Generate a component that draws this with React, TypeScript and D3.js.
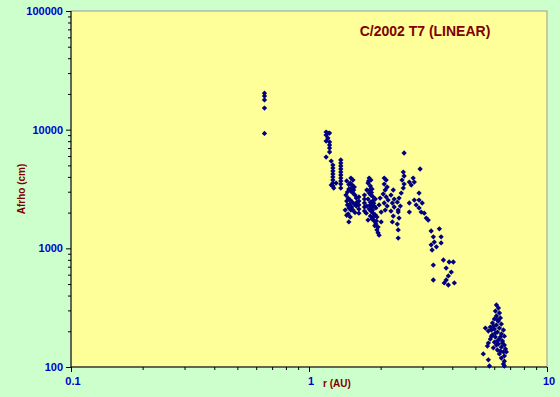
import { useEffect, useRef } from 'react';
import * as d3 from 'd3';

// [r (AU), Afrho (cm)]
const perihelion: [number, number][] = [
  [0.65, 20300], [0.65, 19200], [0.65, 17800], [0.65, 15200], [0.65, 9300],
];

const outbound12: [number, number][] = [
  [1.18, 9550], [1.20, 9360], [1.22, 9360], [1.18, 9010], [1.20, 8500], [1.18, 8020], [1.22, 7870],
  [1.22, 7420], [1.22, 7000], [1.22, 6480], [1.18, 5880], [1.24, 5440],
  [1.26, 5030], [1.26, 4750], [1.26, 4480], [1.26, 4230], [1.26, 3990], [1.26, 3760], [1.26, 3550], [1.26, 3350],
  [1.24, 3410], [1.27, 3220], [1.30, 3550],
  [1.36, 5550], [1.36, 5230], [1.36, 4940], [1.36, 4660], [1.36, 4390], [1.36, 4150], [1.36, 3910], [1.36, 3690], [1.36, 3480], [1.36, 3220],
];

const outbound15: [number, number][] = [
  [1.50, 3910], [1.53, 3760], [1.49, 3550], [1.52, 3410], [1.55, 3280], [1.47, 3160], [1.50, 3040], [1.53, 2920],
  [1.56, 2810], [1.45, 2980], [1.43, 2810], [1.46, 2650], [1.49, 2550], [1.52, 2450], [1.55, 2360], [1.58, 2270],
  [1.45, 2320], [1.47, 2190], [1.50, 2100], [1.42, 2100], [1.46, 1950], [1.49, 1840], [1.47, 1670], [1.58, 2650],
  [1.59, 2450],
  [1.44, 3700], [1.47, 3450], [1.51, 3250], [1.54, 3100], [1.44, 2500], [1.48, 2350], [1.51, 2230], [1.53, 2100],
  [1.56, 2000], [1.44, 1900],
  [1.62, 2710], [1.62, 2500], [1.62, 2320], [1.62, 2140], [1.62, 1980],
  [1.71, 2810], [1.71, 2600], [1.71, 2410], [1.71, 2230], [1.71, 2060],
];

const outbound18: [number, number][] = [
  [1.79, 3910], [1.82, 3760], [1.77, 3550], [1.81, 3350], [1.84, 3160], [1.75, 3100], [1.79, 2920], [1.82, 2810],
  [1.86, 2710], [1.90, 2600], [1.77, 2600], [1.81, 2450], [1.84, 2360], [1.88, 2270], [1.91, 2190], [1.75, 2270],
  [1.79, 2140], [1.82, 2060], [1.86, 1980], [1.90, 1910], [1.93, 1840], [1.81, 1870], [1.84, 1770], [1.88, 1700],
  [1.91, 1600], [1.95, 1510], [1.93, 1430], [1.95, 1350], [1.97, 1290], [1.74, 1980], [1.77, 1730], [2.01, 1670],
  [2.01, 2020], [1.97, 2320], [1.99, 2650],
  [1.78, 3700], [1.80, 3100], [1.83, 2950], [1.85, 2500], [1.87, 2400], [1.80, 2300], [1.83, 2200], [1.85, 2100],
  [1.87, 1850], [1.89, 1550], [1.92, 1700],
];

const outbound22: [number, number][] = [
  [2.07, 3910], [2.11, 3760], [2.07, 3480], [2.13, 3280], [2.09, 3100], [2.05, 2870], [2.11, 2710], [2.15, 2550],
  [2.07, 2410], [2.13, 2270], [2.09, 2100],
  [2.26, 3100], [2.21, 2810], [2.28, 2600], [2.24, 2410], [2.28, 2230], [2.21, 2060], [2.26, 1870], [2.24, 1670],
  [2.37, 2020], [2.39, 1800], [2.35, 1600], [2.37, 1430], [2.37, 1220],
  [2.49, 4390], [2.51, 4070], [2.46, 3760], [2.51, 3480], [2.49, 3220], [2.44, 2920], [2.39, 2650], [2.35, 2450],
  [2.42, 2270], [2.37, 2100], [2.51, 6360],
];

const outbound30: [number, number][] = [
  [2.93, 4660], [2.64, 3620], [2.69, 3410], [2.74, 3910], [2.77, 3620], [2.90, 2920], [2.64, 2410], [2.64, 2020],
  [2.77, 2550], [2.82, 2320], [2.90, 2190], [2.96, 2020], [3.05, 1980], [3.11, 1800], [3.17, 1730], [2.90, 2550],
  [2.99, 2410],
  [3.53, 1460], [3.26, 1400], [3.33, 1250], [3.59, 1250], [3.36, 1130], [3.59, 1110], [3.43, 1030], [3.26, 1070],
  [3.29, 968], [3.33, 723],
  [3.67, 797], [3.88, 767], [4.04, 767], [3.77, 682], [3.96, 631], [3.85, 585], [3.77, 541],
  [3.33, 541], [3.70, 511], [3.85, 491], [4.08, 511],
];

const outbound60: [number, number][] = [
  [6.13, 333], [6.25, 314], [6.07, 296], [6.31, 285], [6.13, 269], [6.37, 259], [6.01, 254], [6.25, 244],
  [5.90, 235], [6.43, 230], [6.13, 226], [5.78, 217], [6.31, 213], [6.01, 209], [6.56, 205], [5.67, 201],
  [6.19, 197], [6.43, 190], [5.90, 186], [5.51, 213], [6.62, 182], [6.07, 179], [6.31, 172], [5.78, 172],
  [6.50, 166], [6.01, 162], [6.25, 156], [6.62, 153], [5.67, 159], [5.95, 145], [6.43, 147], [6.69, 142],
  [6.19, 139], [6.56, 134], [6.31, 129], [6.62, 124], [6.43, 119], [6.62, 112], [6.56, 106], [6.62, 102],
  [5.40, 129], [5.67, 115], [5.73, 102], [5.62, 150], [6.75, 134],
  [5.84, 205], [6.07, 193], [6.37, 179], [6.19, 166], [6.50, 159], [6.37, 136], [6.13, 153], [5.84, 182],
  [6.19, 249], [5.95, 221],
];

const xTicks = [0.1, 1, 10];
const yTicks = [100, 1000, 10000, 100000];
const title = 'C/2002 T7 (LINEAR)';

export default function App() {
  const ref = useRef<SVGSVGElement>(null);
  const width = 560;
  const height = 397;
  const plot = { l: 71, r: 547, t: 11, b: 367 };

  useEffect(() => {
    const svg = d3.select(ref.current);
    svg.selectAll('*').remove();

    const x = d3.scaleLog().domain([0.1, 10]).range([plot.l, plot.r]);
    const y = d3.scaleLog().domain([100, 100000]).range([plot.b, plot.t]);

    svg.append('rect').attr('width', width).attr('height', height).attr('fill', '#ccffcc');
    svg.append('rect')
      .attr('x', plot.l).attr('y', plot.t)
      .attr('width', plot.r - plot.l).attr('height', plot.b - plot.t)
      .attr('fill', '#ffff99').attr('stroke', '#999999').attr('stroke-width', 1);

    const font = 'Arial, "Liberation Sans", sans-serif';

    const minorX: number[] = [];
    for (const d of [0.1, 1]) for (let k = 2; k <= 9; k++) minorX.push(d * k);
    const minorY: number[] = [];
    for (const d of [100, 1000, 10000]) for (let k = 2; k <= 9; k++) minorY.push(d * k);

    const xAxis = d3.axisBottom(x).tickValues(xTicks).tickSize(5).tickFormat(() => '');
    const gx = svg.append('g').attr('transform', `translate(0,${plot.b})`).call(xAxis);
    gx.select('.domain').attr('stroke', '#000').attr('d', `M${plot.l},0H${plot.r}`);
    gx.selectAll('.tick line').attr('stroke', '#000');
    const gxm = svg.append('g').attr('transform', `translate(0,${plot.b})`)
      .call(d3.axisBottom(x).tickValues(minorX).tickSize(3).tickFormat(() => ''));
    gxm.select('.domain').remove();
    gxm.selectAll('.tick line').attr('stroke', '#000');

    const yAxis = d3.axisLeft(y).tickValues(yTicks).tickSize(5).tickFormat(() => '');
    const gy = svg.append('g').attr('transform', `translate(${plot.l},0)`).call(yAxis);
    gy.select('.domain').attr('stroke', '#000').attr('d', `M0,${plot.t}V${plot.b}`);
    gy.selectAll('.tick line').attr('stroke', '#000');
    const gym = svg.append('g').attr('transform', `translate(${plot.l},0)`)
      .call(d3.axisLeft(y).tickValues(minorY).tickSize(3).tickFormat(() => ''));
    gym.select('.domain').remove();
    gym.selectAll('.tick line').attr('stroke', '#000');

    svg.append('g').selectAll('text').data(yTicks).join('text')
      .attr('x', plot.l - 8).attr('y', d => y(d)).attr('dy', '0.35em')
      .attr('text-anchor', 'end').attr('font-family', font).attr('font-size', 11)
      .attr('font-weight', 'bold').attr('fill', '#0000cc').text(d => String(d));

    svg.append('g').selectAll('text').data(xTicks).join('text')
      .attr('x', d => x(d) + 2).attr('y', plot.b + 18)
      .attr('text-anchor', 'middle').attr('font-family', font).attr('font-size', 11)
      .attr('font-weight', 'bold').attr('fill', '#0000cc').text(d => String(d));

    svg.append('text').attr('x', 337).attr('y', 387)
      .attr('text-anchor', 'middle').attr('font-family', font).attr('font-size', 10)
      .attr('font-weight', 'bold').attr('fill', '#800000').text('r (AU)');

    svg.append('text').attr('transform', `translate(25,${(plot.t + plot.b) / 2}) rotate(-90)`)
      .attr('text-anchor', 'middle').attr('font-family', font).attr('font-size', 10)
      .attr('font-weight', 'bold').attr('fill', '#800000').text('Afrho (cm)');

    svg.append('text').attr('x', 425).attr('y', 36)
      .attr('text-anchor', 'middle').attr('font-family', font).attr('font-size', 14)
      .attr('font-weight', 'bold').attr('fill', '#800000').text(title);

    const all = [...perihelion, ...outbound12, ...outbound15, ...outbound18, ...outbound22, ...outbound30, ...outbound60];
    const diamond = d3.symbol().type(d3.symbolDiamond2).size(18);
    svg.append('g').selectAll('path').data(all).join('path')
      .attr('transform', d => `translate(${x(d[0])},${y(d[1])})`)
      .attr('d', diamond()!)
      .attr('fill', '#000080');
  }, []);

  return (
    <svg ref={ref} width={width} height={height}
      style={{ position: 'absolute', left: 0, top: 0, display: 'block' }} />
  );
}
